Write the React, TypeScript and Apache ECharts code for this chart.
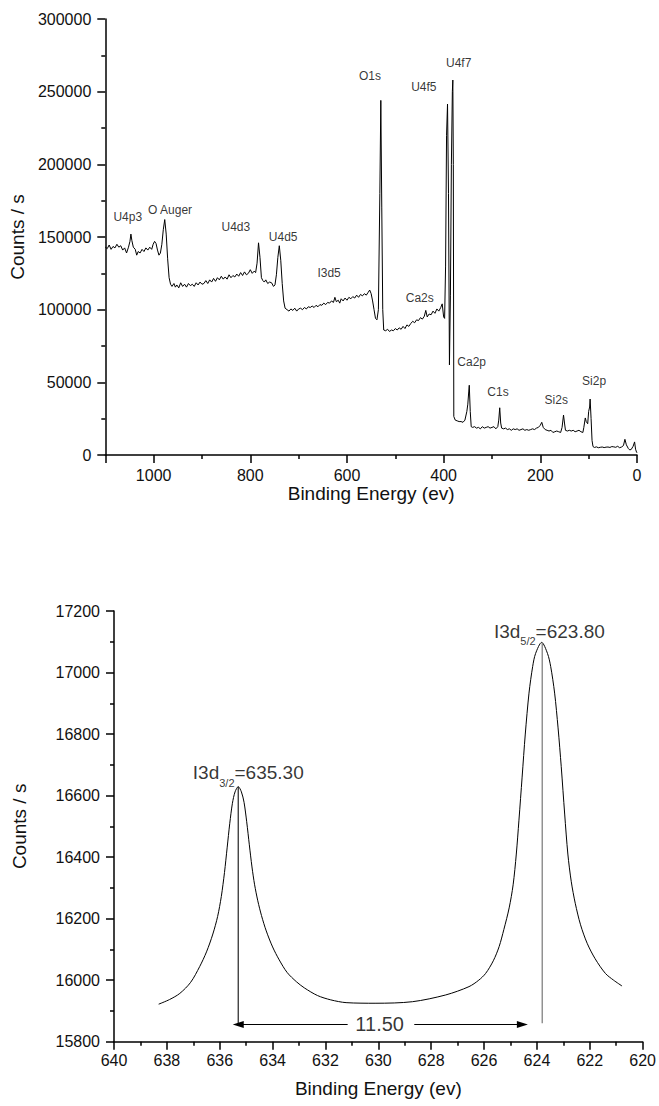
import React, { useEffect, useRef } from "react";
import * as echarts from "echarts";

// ---------- Survey spectrum (binding energy eV, counts/s) ----------
const surveySpectrum: [number, number][] = [
  [1100,143000],[1096,142000],[1092,144500],[1088,141500],[1084,143500],[1080,142500],[1076,145000],[1072,143000],
  [1068,144000],[1064,141000],[1060,142500],[1056,139000],[1052,143000],[1049,147000],[1047,152000],[1045,147500],
  [1042,143000],[1038,141500],[1035,137500],[1032,140000],[1028,139000],[1024,141500],[1020,140000],[1016,142500],
  [1012,141000],[1008,143000],[1004,141500],[1001,145000],[998,147000],[995,145500],[992,141000],[989,137500],
  [986,139000],[983,145000],[980,155000],[977,162000],[974,152000],[971,135000],[968,122000],[965,117500],
  [962,116000],[958,118000],[955,115500],[952,117000],[948,115000],[944,118500],[940,116000],[936,117500],
  [932,115500],[928,118000],[924,116500],[920,117500],[916,116000],[912,118500],[908,117000],[904,119000],
  [900,117500],[896,118000],[892,120000],[888,118000],[884,120500],[880,119000],[876,121500],[872,119500],
  [868,122000],[864,120500],[860,123000],[856,121000],[852,122500],[848,121000],[844,124000],[840,122000],
  [836,123500],[832,122500],[828,124500],[824,123000],[820,125500],[816,123500],[812,126000],[808,124000],
  [804,125000],[800,127500],[796,125000],[792,126500],[789,125500],[786,132000],[783,146000],[780,136000],
  [777,122000],[774,120000],[771,119000],[768,120500],[764,118000],[760,119000],[756,118500],[752,116000],
  [749,117000],[746,124000],[743,136000],[740,144000],[737,134000],[734,118000],[731,106000],[728,101000],
  [724,100000],[720,99000],[716,100500],[712,99500],[708,101000],[704,99000],[700,100500],[696,101000],
  [692,100000],[688,101500],[684,100500],[680,102000],[676,101500],[672,102500],[668,101500],[664,103000],
  [660,102000],[656,103500],[652,103000],[648,104500],[644,103500],[640,105000],[636,104500],[632,106000],
  [628,105000],[625,108500],[622,105500],[618,106500],[615,104500],[612,107500],[608,106000],[604,108000],
  [600,106500],[596,108500],[592,107500],[588,109000],[584,108000],[580,110000],[576,108500],[572,110500],
  [568,109500],[564,111000],[560,110000],[556,112000],[553,113500],[550,111000],[547,106000],[544,100000],
  [541,94000],[538,93000],[535,100000],[532,180000],[530,244000],[528,170000],[526,100000],[524,86000],
  [520,85500],[516,86500],[512,85000],[508,86000],[504,85500],[500,87000],[496,86000],[492,87500],
  [488,86500],[484,88500],[480,87000],[476,89500],[472,88500],[468,90500],[464,92000],[460,91000],
  [456,93000],[452,92500],[448,94500],[444,93500],[440,95500],[437,99500],[434,95000],[430,97000],
  [426,96500],[422,99000],[418,97500],[414,100500],[410,99000],[406,101500],[403,104000],[400,95000],
  [398,94000],[396,130000],[394,220000],[392,241500],[390,180000],[388,62000],[386,110000],[384,200000],
  [382,250000],[381,258000],[380,200000],[379,26500],[376,24000],[372,23500],[368,23000],[364,23000],
  [360,22500],[356,24000],[352,30000],[350,35000],[348,44000],[347,48000],[345,30000],[343,19500],
  [340,19000],[336,19500],[332,18500],[328,19000],[324,18000],[320,19500],[316,18500],[312,19000],
  [308,19500],[304,18500],[300,19000],[296,19500],[292,18000],[288,19500],[286,24000],[284,32500],
  [282,22000],[280,18500],[276,18000],[272,18500],[268,17500],[264,18000],[260,17000],[256,18000],
  [252,17500],[248,18000],[244,17000],[240,17500],[236,18000],[232,17000],[228,17500],[224,17000],
  [220,17500],[216,18000],[212,17500],[208,18500],[204,19000],[200,20500],[197,22500],[194,19000],
  [190,17500],[186,17000],[182,16500],[178,17000],[174,15500],[170,16000],[166,16500],[162,16000],
  [158,15500],[155,19000],[152,27500],[150,22000],[148,17000],[144,16500],[140,17000],[136,16500],
  [132,17000],[128,16000],[124,16500],[120,17000],[116,16000],[112,15500],[110,19000],[107,25500],
  [105,23000],[102,21500],[100,30000],[98,33000],[97,38500],[95,25000],[93,10000],[91,5800],
  [88,5200],[84,5600],[80,5000],[76,5300],[72,5500],[68,5100],[64,5400],[60,5500],
  [56,5200],[52,5800],[48,5600],[44,5300],[40,6000],[36,5000],[32,5500],[28,6500],
  [25,10800],[22,7000],[18,4500],[15,3500],[12,3800],[8,6000],[5,9000],[3,4000],[1,2000],[0,1500],
];

const surveyPeakNames = ["U4p3","O Auger","U4d3","U4d5","I3d5","O1s","U4f5","U4f7","Ca2s","Ca2p","C1s","Si2s","Si2p"];
const surveyPeakPos: [number, number][] = [
  [1053.6,163700],[966,168500],[829.9,156800],[732,149900],[637,125200],[552.6,260700],[441,253100],
  [369,269600],[449.5,108000],[342,64000],[287.6,43300],[167,37800],[88.7,50900],
];

// ---------- I3d high-resolution spectrum ----------
const detailSpectrum: [number, number][] = [
  [638.31,15922],[637.90,15937],[637.51,15957],[637.10,15993],[636.76,16044],[636.50,16092],[636.26,16150],
  [636.08,16207],[635.94,16272],[635.82,16350],[635.72,16430],[635.62,16510],[635.52,16575],[635.42,16612],
  [635.30,16629],[635.18,16612],[635.08,16578],[634.98,16515],[634.88,16440],[634.78,16368],[634.68,16310],
  [634.56,16258],[634.42,16210],[634.24,16160],[634.00,16108],[633.75,16066],[633.45,16025],[633.10,15995],
  [632.80,15975],[632.30,15950],[631.80,15936],[631.22,15927],[630.09,15925],[628.71,15930],[627.45,15952],
  [626.57,15979],[626.20,16000],[625.94,16022],[625.65,16063],[625.43,16109],[625.25,16165],[625.05,16235],
  [624.90,16310],[624.78,16410],[624.68,16520],[624.56,16660],[624.44,16800],[624.30,16933],[624.16,17020],
  [624.05,17062],[623.82,17098],[623.60,17062],[623.48,17020],[623.33,16933],[623.20,16820],[623.08,16694],
  [622.95,16540],[622.83,16410],[622.70,16320],[622.55,16250],[622.35,16180],[622.10,16120],[621.80,16070],
  [621.41,16022],[621.10,16000],[620.78,15981],
];

const peakPositions = [635.3, 623.8];
const peakHeights = [16629, 17098];
const dropLineBase = 15860;
const separationY = 15856;
const separationText = "11.50";
const arrowLeftSeg: [number, number] = [631.16, 635.3];
const arrowRightSeg: [number, number] = [628.64, 624.55];
const separationLabelPos: [number, number] = [629.95, 15858];
const peakLabelTexts = ["{a|I3d}{s|3/2}{a|=635.30}", "{a|I3d}{s|5/2}{a|=623.80}"];
const peakLabelPos: [number, number][] = [[634.92, 16664], [623.53, 17125]];

const fontFamily = "'Liberation Sans', Arial, Helvetica, sans-serif";

function axisCommon() {
  return {
    axisLine: { show: true, onZero: false, lineStyle: { color: "#000", width: 1.5 } },
    axisTick: { show: true, inside: false, length: 8, lineStyle: { color: "#000", width: 1.5 } },
    minorTick: { show: true, splitNumber: 2, length: 4, lineStyle: { color: "#000", width: 1.5 } },
    splitLine: { show: false },
    minorSplitLine: { show: false },
  };
}

export default function App() {
  const ref = useRef<HTMLDivElement>(null);
  useEffect(() => {
    if (!ref.current) return;
    const chart = echarts.init(ref.current, null, { renderer: "svg" });
    const plain = (v: number) => String(v);
    const option: any = {
      animation: false,
      backgroundColor: "#fff",
      textStyle: { fontFamily },
      grid: [
        { left: 104, top: 19, width: 533, height: 436 },
        { left: 114, top: 611, width: 530, height: 430.7 },
      ],
      xAxis: [
        {
          gridIndex: 0, type: "value", min: 0, max: 1100, interval: 200, inverse: true,
          name: "Binding Energy (ev)", nameLocation: "middle", nameGap: 26,
          nameTextStyle: { fontSize: 19, color: "#111", fontFamily },
          axisLabel: { fontSize: 16, color: "#111", margin: 12, showMaxLabel: false, formatter: plain, fontFamily },
          ...axisCommon(),
        },
        {
          gridIndex: 1, type: "value", min: 620, max: 640, interval: 2, inverse: true,
          name: "Binding Energy (ev)", nameLocation: "middle", nameGap: 37,
          nameTextStyle: { fontSize: 19, color: "#111", fontFamily },
          axisLabel: { fontSize: 16, color: "#111", margin: 11, formatter: plain, fontFamily },
          ...axisCommon(),
        },
      ],
      yAxis: [
        {
          gridIndex: 0, type: "value", min: 0, max: 300000, interval: 50000,
          name: "Counts / s", nameLocation: "middle", nameGap: 76,
          nameTextStyle: { fontSize: 19, color: "#111", fontFamily },
          axisLabel: { fontSize: 16, color: "#111", margin: 14, formatter: plain, fontFamily },
          ...axisCommon(),
        },
        {
          gridIndex: 1, type: "value", min: 15800, max: 17200, interval: 200,
          name: "Counts / s", nameLocation: "middle", nameGap: 85,
          nameTextStyle: { fontSize: 19, color: "#111", fontFamily },
          axisLabel: { fontSize: 16, color: "#111", margin: 14, formatter: plain, fontFamily },
          ...axisCommon(),
        },
      ],
      series: [
        {
          type: "line", xAxisIndex: 0, yAxisIndex: 0, data: surveySpectrum,
          showSymbol: false, silent: true, lineStyle: { color: "#000", width: 1 },
        },
        {
          type: "scatter", xAxisIndex: 0, yAxisIndex: 0, symbolSize: 0, silent: true,
          data: surveyPeakNames.map((n, i) => ({ name: n, value: surveyPeakPos[i] })),
          label: { show: true, position: "inside", formatter: "{b}", fontSize: 12, color: "#000", fontFamily },
        },
        {
          type: "line", xAxisIndex: 1, yAxisIndex: 1, data: detailSpectrum, smooth: 0.3,
          showSymbol: false, silent: true, lineStyle: { color: "#000", width: 1 },
        },
        ...peakPositions.map((p, i) => ({
          type: "line", xAxisIndex: 1, yAxisIndex: 1, showSymbol: false, silent: true,
          data: [[p, dropLineBase], [p, peakHeights[i]]],
          lineStyle: { color: i === 0 ? "#222" : "#777", width: 1.2 },
        })),
        {
          type: "line", xAxisIndex: 1, yAxisIndex: 1, showSymbol: false, silent: true,
          data: [], lineStyle: { width: 0 },
          markLine: {
            silent: true, symbolSize: [7, 11], precision: 2,
            label: { show: false },
            lineStyle: { color: "#000", width: 1, type: "solid" },
            data: [
              [{ coord: [arrowLeftSeg[0], separationY], symbol: "none" }, { coord: [arrowLeftSeg[1], separationY], symbol: "triangle" }],
              [{ coord: [arrowRightSeg[0], separationY], symbol: "none" }, { coord: [arrowRightSeg[1], separationY], symbol: "triangle" }],
            ],
          },
        },
        {
          type: "scatter", xAxisIndex: 1, yAxisIndex: 1, symbolSize: 0, silent: true,
          data: [{ name: separationText, value: separationLabelPos }],
          label: { show: true, position: "inside", formatter: "{b}", fontSize: 20, color: "#000", fontFamily },
        },
        {
          type: "scatter", xAxisIndex: 1, yAxisIndex: 1, symbolSize: 0, silent: true,
          data: peakLabelTexts.map((t, i) => ({ name: t, value: peakLabelPos[i] })),
          label: {
            show: true, position: "inside", formatter: "{b}", color: "#000",
            rich: {
              a: { fontSize: 19, color: "#000", fontFamily, lineHeight: 22, verticalAlign: "top" },
              s: { fontSize: 11, color: "#000", fontFamily, lineHeight: 25, verticalAlign: "bottom" },
            },
          },
        },
      ],
    };
    chart.setOption(option);
    return () => chart.dispose();
  }, []);
  return (
    <div
      ref={ref}
      style={{ position: "fixed", left: 0, top: 0, width: 659, height: 1106, background: "#fff" }}
    />
  );
}
